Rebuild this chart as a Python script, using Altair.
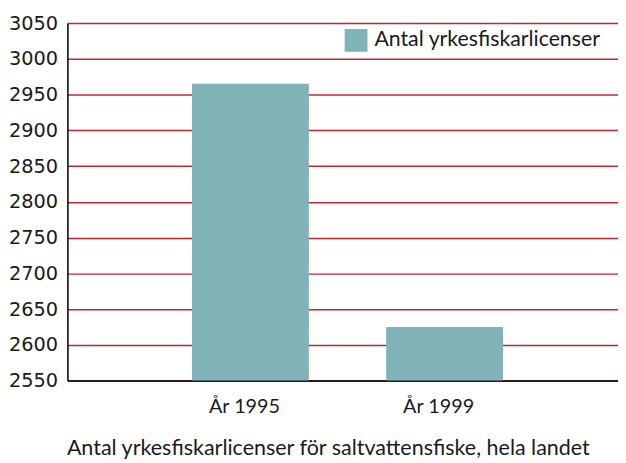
import altair as alt
import pandas as pd

years = ["År 1995", "År 1999"]
values = [2965, 2625]
series = ["Antal yrkesfiskarlicenser", "Antal yrkesfiskarlicenser"]
y_ticks = [2550, 2600, 2650, 2700, 2750, 2800, 2850, 2900, 2950, 3000, 3050]

df = pd.DataFrame({"year": years, "value": values, "series": series})

chart = alt.Chart(df).mark_bar(clip=True).encode(
    x=alt.X("year:N",
            scale=alt.Scale(paddingInner=0.398, paddingOuter=0.617, align=0.52),
            axis=alt.Axis(title="Antal yrkesfiskarlicenser för saltvattensfiske, hela landet",
                          labelAngle=0, ticks=False, labelPadding=16, labelOffset=-6,
                          labelFont="Lato", labelFontSize=20, labelColor="#1a1a1a",
                          titleFont="Lato", titleFontSize=21.7, titleFontWeight="normal",
                          titleColor="#1a1a1a", titlePadding=22, titleX=263,
                          domainColor="#000000", domainWidth=1.5, grid=False)),
    y=alt.Y("value:Q",
            scale=alt.Scale(domain=[2550, 3050], nice=False, zero=False),
            axis=alt.Axis(title=None, values=y_ticks, ticks=False, labelPadding=10,
                          format="d",
                          labelFont="DejaVu Sans", labelFontSize=19.5, labelColor="#1a1a1a",
                          domainColor="#000000", domainWidth=1.5,
                          grid=True, gridColor="#c1272d", gridWidth=1.5)),
    color=alt.Color("series:N",
                    scale=alt.Scale(range=["#7fb3b8"]),
                    legend=alt.Legend(title=None, orient="none", legendX=280, legendY=6,
                                      symbolType="square", symbolSize=529,
                                      symbolStrokeWidth=0, symbolOpacity=1,
                                      labelFont="Lato", labelFontSize=21.5,
                                      labelColor="#1a1a1a", labelOffset=7,
                                      labelLimit=400, padding=0)),
).properties(
    width=556,
    height=361,
    padding={"left": 60, "top": 13, "right": 0, "bottom": 81},
    autosize=alt.AutoSizeParams(type="none"),
).configure_view(stroke=None).configure(background="white")

chart.save("out.html", embed_options={"renderer": "svg", "actions": False})
